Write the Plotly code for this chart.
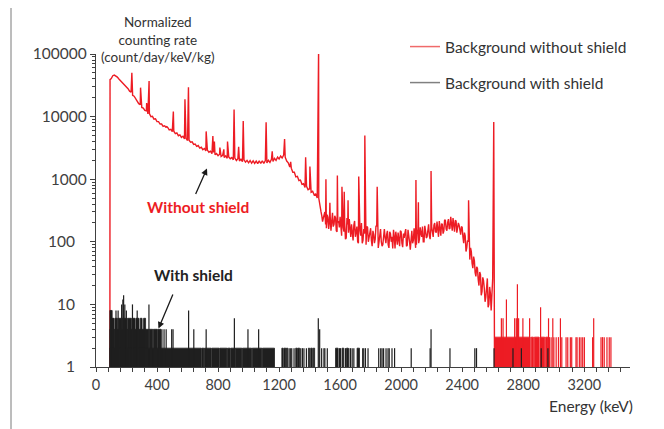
import plotly.graph_objects as go

# ---------------- data ----------------
# red spectrum (background without shield), continuum every 10 keV from 100 keV to 2600 keV
red_onset_e = [91, 92]
red_onset_v = [1, 39000]

cont_start_kev = 100
cont_step_kev = 10
red_cont_100 = [40500, 45000, 46000, 44600, 42800, 39800, 37600, 35300, 33400, 31200]
red_cont_200 = [29000, 27900, 25500, 24600, 21900, 21200, 19000, 17900, 16100, 15500]
red_cont_300 = [14000, 13700, 12600, 12400, 11000, 11200, 9950, 10100, 9100, 9200]
red_cont_400 = [8300, 8300, 7600, 7600, 7000, 7150, 6650, 6700, 6150, 6250]
red_cont_500 = [5750, 5850, 5350, 5500, 4950, 5100, 4650, 4850, 4400, 4500]
red_cont_600 = [4150, 4200, 3900, 3950, 3600, 3650, 3350, 3450, 3150, 3250]
red_cont_700 = [2960, 3100, 2830, 2920, 2700, 2800, 2560, 2680, 2450, 2570]
red_cont_800 = [2370, 2500, 2300, 2400, 2220, 2350, 2160, 2270, 2120, 2220]
red_cont_900 = [2040, 2170, 1990, 2130, 1950, 2080, 1900, 2040, 1870, 2000]
red_cont_1000 = [1830, 1990, 1800, 1960, 1790, 1950, 1770, 1960, 1780, 1970]
red_cont_1100 = [1790, 1990, 1820, 2010, 1860, 2080, 1920, 2150, 1990, 2250]
red_cont_1200 = [2100, 2350, 2180, 2420, 2250, 1950, 1830, 1560, 1500, 1290]
red_cont_1300 = [1290, 1090, 1110, 950, 970, 830, 850, 740, 770, 680]
red_cont_1400 = [700, 620, 640, 560, 580, 500, 500, 330, 260, 240]
red_cont_1500 = [300, 165, 245, 210, 150, 290, 190, 240, 145, 215]
red_cont_1600 = [250, 125, 170, 205, 115, 190, 230, 120, 150, 185]
red_cont_1700 = [120, 175, 95, 150, 200, 105, 135, 90, 170, 125]
red_cont_1800 = [165, 85, 130, 110, 175, 80, 145, 100, 90, 160]
red_cont_1900 = [95, 150, 80, 135, 120, 155, 78, 115, 140, 85]
red_cont_2000 = [145, 82, 115, 160, 88, 130, 75, 150, 105, 125]
red_cont_2100 = [90, 160, 110, 135, 175, 100, 150, 120, 190, 110]
red_cont_2200 = [175, 120, 200, 140, 160, 215, 125, 190, 150, 220]
red_cont_2300 = [150, 230, 165, 200, 240, 145, 215, 160, 185, 130]
red_cont_2400 = [170, 95, 125, 80, 100, 52, 70, 38, 50, 28]
red_cont_2500 = [38, 20, 30, 16, 24, 11, 20, 9, 19, 8]
red_cont_2600 = [26]

# extra channels half-way between the 10 keV points in the noisy part (1465 ... 2595 keV)
mid_start_kev = 1465
red_mid_1400 = [390, 300, 210, 270]
red_mid_1500 = [190, 270, 160, 255, 235, 175, 260, 150, 205, 170]
red_mid_1600 = [155, 215, 145, 110, 240, 140, 160, 190, 105, 215]
red_mid_1700 = [150, 100, 185, 125, 95, 160, 115, 175, 100, 140]
red_mid_1800 = [105, 150, 95, 180, 120, 100, 160, 85, 135, 115]
red_mid_1900 = [130, 90, 145, 100, 78, 120, 145, 90, 100, 150]
red_mid_2000 = [95, 135, 140, 85, 155, 100, 120, 95, 165, 80]
red_mid_2100 = [135, 95, 170, 120, 100, 180, 115, 160, 125, 165]
red_mid_2200 = [130, 185, 145, 210, 120, 170, 195, 135, 225, 160]
red_mid_2300 = [205, 160, 250, 150, 175, 220, 140, 200, 135, 175]
red_mid_2400 = [120, 140, 70, 105, 65, 80, 45, 58, 32, 40]
red_mid_2500 = [25, 33, 14, 27, 18, 13, 26, 10, 15, 22]

# gamma lines on top of the red continuum
red_peak_e = [235, 292, 332, 348, 462, 507, 583, 606, 722, 766, 776, 812, 838, 862,
              905, 935, 965, 1115, 1155, 1236, 1276, 1374, 1402, 1459, 1507, 1533,
              1582, 1612, 1627, 1652, 1722, 1762, 1843, 2097, 2113, 2196, 2442, 2607]
red_peak_v = [50000, 29000, 16500, 37000, 7000, 12000, 19000, 29500, 5800, 4900, 4000, 3200, 3000, 4000,
              13000, 3300, 8500, 8100, 2800, 4400, 1900, 2250, 1600, 120000, 1000, 420,
              1150, 760, 630, 460, 1100, 5000, 760, 970, 430, 1350, 460, 8200]
red_end_e = [2612]
red_end_v = [1]

# red counts above 2.6 MeV: dense blocks (level 3) and single channels
red_tail_block_start = [2612, 2853, 2873, 2910, 2947]
red_tail_block_end = [2846, 2867, 2904, 2941, 2962]
red_tail_block_level = [3, 3, 3, 3, 3]
red_tail_e = [2657, 2668, 2690, 2744, 2755, 2762, 2770, 2798, 2842, 2914, 2966, 2972, 2983,
              2994, 3001, 3016, 3031, 3044, 3053, 3081, 3092, 3109, 3118, 3146, 3153, 3168,
              3179, 3190, 3201, 3255, 3262, 3310, 3320, 3331, 3349, 3364, 3375]
red_tail_v = [6, 6, 12, 6, 6, 21, 6, 6, 6, 9, 6, 3, 3,
              6, 3, 3, 3, 6, 3, 3, 3, 3, 3, 3, 3, 3,
              3, 3, 3, 3, 6, 3, 3, 3, 3, 3, 3]

# black spectrum (background with shield): dense blocks and single channels
shield_block_start = [91,
                      106, 124, 146, 172, 206, 238, 262, 290, 312,
                      91, 123, 208, 294, 350, 376, 404,
                      91, 694, 711, 759, 812, 862, 884, 912, 960, 1024, 1091,
                      1218, 1231, 1248, 1309, 1324, 1392, 1407, 1424, 1570, 1613, 1642, 1711]
shield_block_end = [106,
                    118, 140, 165, 200, 232, 256, 282, 302, 325,
                    120, 205, 290, 345, 372, 400, 426,
                    690, 707, 755, 808, 858, 880, 908, 956, 1020, 1087, 1170,
                    1226, 1244, 1257, 1320, 1335, 1400, 1418, 1433, 1587, 1624, 1653, 1727]
shield_block_level = [8,
                      6, 6, 6, 6, 6, 6, 6, 6, 6,
                      4, 4, 4, 4, 4, 4, 4,
                      2, 2, 2, 2, 2, 2, 2, 2, 2, 2, 2,
                      2, 2, 2, 2, 2, 2, 2, 2, 2, 2, 2, 2]
shield_e = [131, 145, 168, 176, 181, 189, 199, 239, 270, 347, 432, 446, 460, 496, 505,
            607, 641, 722, 907, 996, 1066, 1457, 1466, 2196,
            1266, 1276, 1283, 1298, 1342, 1353, 1363, 1379, 1479, 1494, 1500, 1516,
            1596, 1603, 1635, 1657, 1668, 1679, 1690, 1748, 1755, 1766, 1783, 1853,
            1866, 1875, 1885, 1901, 1914, 1922, 1940, 1957, 2066, 2190, 2320, 2483,
            2494, 2609, 2733, 2788, 2918, 2962]
shield_v = [8, 8, 10, 12, 14, 10, 8, 10, 8, 10, 4, 4, 4, 4, 4,
            8, 4, 4, 6, 4, 4, 6, 4, 4,
            2, 2, 2, 2, 2, 2, 2, 2, 2, 2, 2, 2,
            2, 2, 2, 2, 2, 2, 2, 2, 2, 2, 2, 2,
            2, 2, 2, 2, 2, 2, 2, 2, 2, 2, 2, 2,
            2, 2, 2, 2, 2, 2]

x_tick_vals = [0, 400, 800, 1200, 1600, 2000, 2400, 2800, 3200]
x_tick_text = ["0", "400", "800", "1200", "1600", "2000", "2400", "2800", "3200"]
y_tick_vals = [1, 10, 100, 1000, 10000, 100000]
y_tick_text = ["1\u00a0\u00a0\u00a0", "10\u00a0\u00a0\u00a0", "100\u00a0\u00a0\u00a0",
               "1000", "10000", "100000"]

series_names = ["Background without shield", "Background with shield"]

# ---------------- build traces ----------------
RED = "#ed1c24"
BLACK = "#1f1f1f"
FONT = "Lato, Carlito, sans-serif"

red_cont = (red_cont_100 + red_cont_200 + red_cont_300 + red_cont_400 + red_cont_500 +
            red_cont_600 + red_cont_700 + red_cont_800 + red_cont_900 + red_cont_1000 +
            red_cont_1100 + red_cont_1200 + red_cont_1300 + red_cont_1400 + red_cont_1500 +
            red_cont_1600 + red_cont_1700 + red_cont_1800 + red_cont_1900 + red_cont_2000 +
            red_cont_2100 + red_cont_2200 + red_cont_2300 + red_cont_2400 + red_cont_2500 +
            red_cont_2600)
red_cont_e = [cont_start_kev + i * cont_step_kev for i in range(len(red_cont))]
red_mid = (red_mid_1400 + red_mid_1500 + red_mid_1600 + red_mid_1700 + red_mid_1800 +
           red_mid_1900 + red_mid_2000 + red_mid_2100 + red_mid_2200 + red_mid_2300 +
           red_mid_2400 + red_mid_2500)
red_mid_e = [mid_start_kev + i * cont_step_kev for i in range(len(red_mid))]

pts = (list(zip(red_onset_e, red_onset_v)) + list(zip(red_cont_e, red_cont)) +
       list(zip(red_mid_e, red_mid)) +
       list(zip(red_peak_e, red_peak_v)) + list(zip(red_end_e, red_end_v)))
pts.sort(key=lambda p: p[0])
red_x = [p[0] for p in pts]
red_y = [p[1] for p in pts]


def blocks_xy(starts, ends, levels):
    xs, ys = [], []
    for s, e, lv in zip(starts, ends, levels):
        xs += [s, s, e, e, None]
        ys += [1, lv, lv, 1, None]
    return xs, ys


def bars_xy(es, vs):
    xs, ys = [], []
    for e, v in zip(es, vs):
        xs += [e, e, None]
        ys += [1, v, None]
    return xs, ys


fig = go.Figure()

fig.add_trace(go.Scatter(x=red_x, y=red_y, mode="lines", line=dict(color=RED, width=1.4),
                         showlegend=False, name=series_names[0]))
bx, by = blocks_xy(red_tail_block_start, red_tail_block_end, red_tail_block_level)
fig.add_trace(go.Scatter(x=bx, y=by, mode="lines", fill="toself", fillcolor=RED,
                         line=dict(color=RED, width=0.8), showlegend=False, name=series_names[0]))
bx, by = bars_xy(red_tail_e, red_tail_v)
fig.add_trace(go.Scatter(x=bx, y=by, mode="lines", line=dict(color=RED, width=1.2),
                         showlegend=False, name=series_names[0]))

bx, by = blocks_xy(shield_block_start, shield_block_end, shield_block_level)
fig.add_trace(go.Scatter(x=bx, y=by, mode="lines", fill="toself", fillcolor=BLACK,
                         line=dict(color=BLACK, width=0.8), showlegend=False, name=series_names[1]))
bx, by = bars_xy(shield_e, shield_v)
fig.add_trace(go.Scatter(x=bx, y=by, mode="lines", line=dict(color=BLACK, width=1.2),
                         showlegend=False, name=series_names[1]))

# legend entries
fig.add_trace(go.Scatter(x=[None], y=[None], mode="lines", line=dict(color="#f06a6a", width=1.5),
                         name=series_names[0], legend="legend"))
fig.add_trace(go.Scatter(x=[None], y=[None], mode="lines", line=dict(color="#808080", width=1.5),
                         name=series_names[1], legend="legend2"))

# the page places the figure 8 px from the top-left corner of the window
OFF = 8
W, H = 664, 429
L, T = 96 - OFF, 54 - OFF
R = W - (630 - OFF)
B = H - (367 - OFF)
PW, PH = W - L - R, H - T - B


def px(xp):
    # window x pixel -> paper coordinate
    return (xp - OFF - L) / PW


def py(yp):
    # window y pixel -> paper coordinate
    return (H - B - (yp - OFF)) / PH


fig.update_layout(
    width=W, height=H,
    margin=dict(l=L, r=R, t=T, b=B, autoexpand=False),
    paper_bgcolor="white", plot_bgcolor="white",
    font=dict(family=FONT, color="#333333", size=14),
    legend=dict(x=px(405), y=py(47), xanchor="left", yanchor="middle",
                font=dict(family=FONT, size=15.5, color="#333333"), bgcolor="rgba(0,0,0,0)"),
    legend2=dict(x=px(405), y=py(83), xanchor="left", yanchor="middle",
                 font=dict(family=FONT, size=15.5, color="#333333"), bgcolor="rgba(0,0,0,0)"),
    xaxis=dict(range=[0, 3500], tickmode="array", tickvals=x_tick_vals, ticktext=x_tick_text,
               ticks="outside", ticklen=4, tickwidth=1.2, tickcolor="#404040",
               minor=dict(dtick=80, tick0=0, ticks="outside", ticklen=4, tickwidth=1.2,
                          tickcolor="#404040"),
               showline=True, linecolor="#404040", linewidth=1.2, showgrid=False, zeroline=False,
               tickfont=dict(family=FONT, size=14.5, color="#404040")),
    yaxis=dict(type="log", range=[0, 5], tickmode="array", tickvals=y_tick_vals,
               ticktext=y_tick_text, ticks="outside", ticklen=5, tickwidth=1.2,
               tickcolor="#404040",
               minor=dict(dtick="D1", ticks="outside", ticklen=3, tickwidth=1,
                          tickcolor="#404040"),
               showline=True, linecolor="#404040", linewidth=1.2, showgrid=False, zeroline=False,
               tickfont=dict(family=FONT, size=15.5, color="#404040")),
)

fig.add_shape(type="rect", xref="paper", yref="paper", x0=px(11), x1=px(700), y0=py(460), y1=py(6),
              line=dict(color="#7a7a7a", width=1), fillcolor="rgba(0,0,0,0)", layer="below")

fig.add_annotation(x=px(158), y=py(39.5), xref="paper", yref="paper",
                   text="Normalized<br>counting rate<br>(count/day/keV/kg)", showarrow=False,
                   font=dict(family=FONT, size=13.5, color="#333333"), xanchor="center", yanchor="middle")
fig.add_annotation(x=px(198), y=py(207), xref="paper", yref="paper", text="<b>Without shield</b>",
                   showarrow=False, font=dict(family=FONT, size=15.5, color=RED),
                   xanchor="center", yanchor="middle")
fig.add_annotation(x=px(193), y=py(275), xref="paper", yref="paper", text="<b>With shield</b>",
                   showarrow=False, font=dict(family=FONT, size=15.5, color="#222222"),
                   xanchor="center", yanchor="middle")
fig.add_annotation(x=px(591), y=py(406), xref="paper", yref="paper", text="Energy (keV)",
                   showarrow=False, font=dict(family=FONT, size=15.5, color="#333333"),
                   xanchor="center", yanchor="middle")
fig.add_annotation(x=px(207), y=py(168.5), xref="paper", yref="paper", text="", showarrow=True,
                   ax=-12, ay=27, arrowhead=2, arrowsize=1, arrowwidth=1.3, arrowcolor="#1a1a1a")
fig.add_annotation(x=px(158.5), y=py(328.5), xref="paper", yref="paper", text="", showarrow=True,
                   ax=15, ay=-35.5, arrowhead=2, arrowsize=1, arrowwidth=1.3, arrowcolor="#1a1a1a")

fig.write_html("out.html")
